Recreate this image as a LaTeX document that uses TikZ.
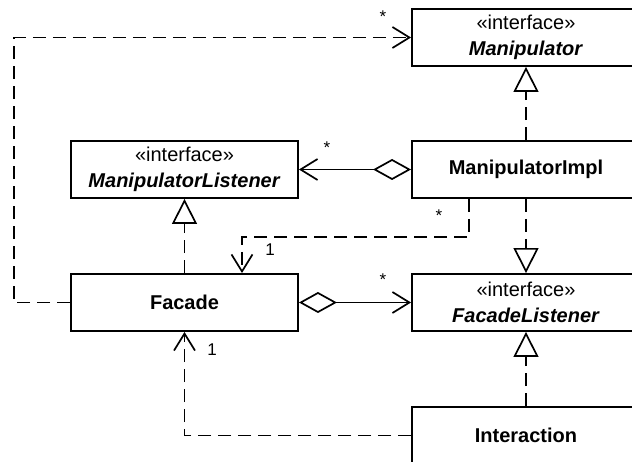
\documentclass[tikz,border=0pt]{standalone}
\usepackage{fontspec}
\setmainfont{Liberation Sans}
\usetikzlibrary{arrows.meta}
\begin{document}
\begin{tikzpicture}[x=1pt,y=-1pt,
  box/.style={draw, line width=1.9pt, minimum width=227pt, minimum height=57pt, inner sep=0pt,
    font=\fontsize{20}{25.5}\selectfont, align=center},
  rbox/.style={box, minimum width=228pt},
  conn/.style={line width=1.7pt},
  dsh/.style={conn, dash pattern=on 13pt off 7pt},
  gen/.style={-{Triangle[open,length=25pt,width=25pt,line width=1.7pt]}},
  nav/.style={-{Straight Barb[length=17pt,width=21pt,line width=1.7pt]}},
  agg/.style={{Diamond[open,length=38pt,width=21pt,line width=1.7pt]}-{Straight Barb[length=17pt,width=21pt,line width=1.7pt]}},
  mult/.style={font=\fontsize{17}{17}\selectfont, inner sep=0pt}
]
\useasboundingbox (0,0) rectangle (632,462);
\node[rbox] (M)  at (526,37.5)  {«interface»\\\textbf{\textit{Manipulator}}};
\node[box]  (ML) at (184.5,169.5) {«interface»\\\textbf{\textit{ManipulatorListener}}};
\node[rbox] (MI) at (526,169.5) {\textbf{ManipulatorImpl}};
\node[box]  (F)  at (184.5,302.5) {\textbf{Facade}};
\node[rbox] (FL) at (526,302.5) {«interface»\\\textbf{\textit{FacadeListener}}};
\node[rbox] (I)  at (526,435.5) {\textbf{Interaction}};

\coordinate (c1) at (14,302.5);
\coordinate (c2) at (14,37.5);
\draw[dsh,nav] (F.west) -- (c1) -- (c2) -- (M.west);
\draw[dsh,gen] (MI.north) -- (M.south);
\draw[conn,agg] (MI.west) -- (ML.east);
\draw[dsh,nav] ([xshift=-57pt]MI.south) -- ++(0,38) -| ([xshift=57.5pt]F.north);
\draw[dsh,gen] (F.north) -- (ML.south);
\draw[dsh,gen] (MI.south) -- (FL.north);
\draw[conn,agg] (F.east) -- (FL.west);
\draw[dsh,gen] (I.north) -- (FL.south);
\draw[dsh,nav] (I.west) -| (F.south);

\node[mult] (m1) at (383,17) {*};
\node[mult] (m2) at (327,148) {*};
\node[mult] (m3) at (439,216) {*};
\node[mult] (m4) at (383,280) {*};
\node[mult] (m5) at (270,250) {1};
\node[mult] (m6) at (212,350) {1};
\end{tikzpicture}
\end{document}
